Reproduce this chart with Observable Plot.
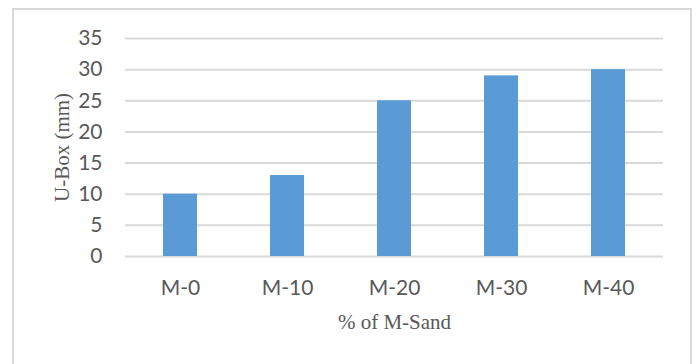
<!DOCTYPE html>
<html>
<head>
<meta charset="utf-8">
<script src="https://cdn.jsdelivr.net/npm/d3@7"></script>
<script src="https://cdn.jsdelivr.net/npm/@observablehq/plot@0.6"></script>
<style>
  html, body { margin: 0; padding: 0; background: #ffffff; }
  #wrap { position: relative; width: 699px; height: 364px; overflow: hidden; }
  #border {
    position: absolute; left: 12px; top: 8px; width: 680px; height: 400px;
    border: 2px solid #d9d9d9; box-sizing: border-box;
  }
  #chart { position: absolute; left: 0; top: 0; }
</style>
</head>
<body>
<div id="wrap">
  <div id="border"></div>
  <div id="chart"></div>
</div>
<script>
// U-Box values for each M-Sand replacement level
const mixes = ["M-0", "M-10", "M-20", "M-30", "M-40"];
const uBox = [10, 13, 25, 29, 30];
const yTicks = [0, 5, 10, 15, 20, 25, 30, 35];
const xTitle = "% of M-Sand";
const yTitle = "U-Box (mm)";

const rows = mixes.map((m, i) => ({mix: m, value: uBox[i]}));

const chart = Plot.plot({
  width: 699,
  height: 364,
  marginLeft: 125,
  marginRight: 36,
  marginTop: 38,
  marginBottom: 108,
  style: {background: "transparent", fontFamily: "Lato, sans-serif", fontSize: "21px", color: "#595959"},
  x: {domain: mixes, paddingInner: 0.684, paddingOuter: 0.342, label: null},
  y: {domain: [0, 35], label: null},
  marks: [
    Plot.gridY(yTicks, {stroke: "#d9d9d9", strokeOpacity: 1, strokeWidth: 2}),
    Plot.barY(rows, {x: "mix", y: "value", fill: "#5B9BD5"}),
    Plot.axisY(yTicks, {tickSize: 0, tickPadding: 23, label: null, fill: "#595959", fontSize: 21}),
    Plot.axisX({tickSize: 0, tickPadding: 24, label: null, fill: "#595959", fontSize: 21}),
    Plot.text([xTitle], {
      frameAnchor: "bottom", dy: 66, lineAnchor: "middle", textAnchor: "middle",
      fontFamily: "'Liberation Serif', 'Times New Roman', serif", fontSize: 21, fill: "#595959"
    }),
    Plot.text([yTitle], {
      frameAnchor: "left", dx: -63, rotate: -90, lineAnchor: "middle", textAnchor: "middle",
      fontFamily: "'Liberation Serif', 'Times New Roman', serif", fontSize: 21, fill: "#595959"
    })
  ]
});
document.getElementById("chart").appendChild(chart);
</script>
</body>
</html>
